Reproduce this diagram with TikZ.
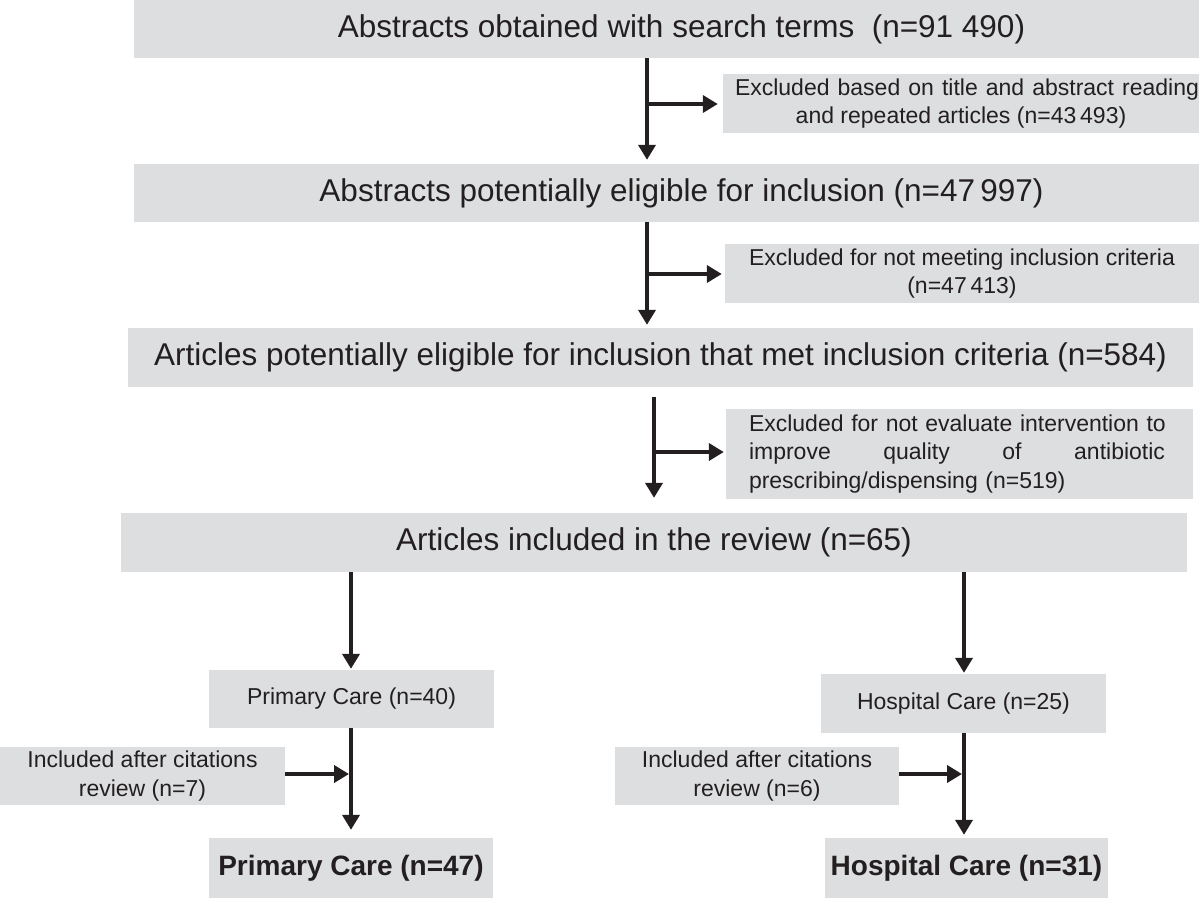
\documentclass[tikz,border=0pt]{standalone}
\usepackage{fontspec}
\setmainfont{Liberation Sans}
\usetikzlibrary{arrows.meta}
\definecolor{boxgray}{RGB}{221,222,224}
\definecolor{ink}{RGB}{35,31,32}
\tikzset{
  mainbox/.style={fill=boxgray, inner sep=0pt, minimum height=58pt, text=ink, font=\fontsize{31.5}{38}\selectfont},
  sidebox/.style={fill=boxgray, inner sep=0pt, minimum height=58pt, text=ink, align=center, font=\fontsize{23}{28.5}\selectfont},
  finalbox/.style={fill=boxgray, inner sep=0pt, minimum height=60pt, text=ink, font=\fontsize{28}{34}\selectfont\bfseries},
  flow/.style={draw=ink, line width=4.6pt, -{Triangle[length=15pt,width=17pt]}}
}

\begin{document}
\begin{tikzpicture}[x=1pt, y=-1pt]
  \useasboundingbox (0,0) rectangle (1200,898);
  % screening steps
  \node[mainbox, minimum width=1065pt] (search) at (666.5,29) {\hspace*{30pt}Abstracts obtained with search terms~ (n=91 490)};
  \node[sidebox, minimum width=476pt, minimum height=59pt] (excl1) at (961,103.5) {\hspace*{12pt}\makebox[464pt][s]{Excluded based on title and abstract reading}\\and repeated articles (n=43\,493)};
  \node[mainbox, minimum width=1065pt] (elig) at (666.5,193) {\hspace*{30pt}Abstracts potentially eligible for inclusion (n=47\,997)};
  \node[sidebox, minimum width=474pt, minimum height=59pt] (excl2) at (962,273.5) {Excluded for not meeting inclusion criteria\\(n=47\,413)};
  \node[mainbox, minimum width=1065pt, minimum height=59pt] (met) at (660.5,357.5) {Articles potentially eligible for inclusion that met inclusion criteria (n=584)};
  \node[sidebox, minimum width=467pt, minimum height=90pt, text width=421pt, align=left] (excl3) at (959.5,454) {Excluded for not evaluate intervention to\\\makebox[416pt][s]{\spaceskip=0pt improve quality of antibiotic}\\prescribing/dispensing (n=519)};
  \node[mainbox, minimum width=1066pt, minimum height=59pt] (review) at (654,542.5) {Articles included in the review (n=65)};
  % care settings
  \node[sidebox, minimum width=285pt] (primary) at (351.5,699) {Primary Care (n=40)};
  \node[sidebox, minimum width=285pt, minimum height=59pt] (hospital) at (963.5,703.5) {Hospital Care (n=25)};
  \node[sidebox, minimum width=285pt] (citeP) at (142.5,776) {Included after citations\\review (n=7)};
  \node[sidebox, minimum width=284pt] (citeH) at (757,776) {Included after citations\\review (n=6)};
  \node[finalbox, minimum width=284pt] (primaryF) at (351,868) {Primary Care (n=47)};
  \node[finalbox, minimum width=283pt] (hospitalF) at (966.5,868) {Hospital Care (n=31)};

  % junctions on the main line
  \coordinate (j1) at (647,104);
  \coordinate (j2) at (647,274);
  \coordinate (j3) at (654,452);
  \coordinate (jP) at (351,774);
  \coordinate (jH) at (964,774);

  \draw[flow, shorten >=4pt] (search.south -| j1) -- (elig.north -| j1);
  \draw[flow, shorten >=5pt] (j1) -- (j1 -| excl1.west);
  \draw[flow, shorten >=3pt] (elig.south -| j2) -- (met.north -| j2);
  \draw[flow, shorten >=3pt] (j2) -- (j2 -| excl2.west);
  \draw[flow, shorten <=10pt, shorten >=15pt] (met.south -| j3) -- (review.north -| j3);
  \draw[flow, shorten >=2pt] (j3) -- (j3 -| excl3.west);

  \draw[flow, shorten >=1pt] (review.south -| jP) -- (primary.north -| jP);
  \draw[flow, shorten >=1pt] (review.south -| jH) -- (hospital.north -| jH);
  \draw[flow, shorten >=8pt] (primary.south -| jP) -- (primaryF.north -| jP);
  \draw[flow, shorten >=3pt] (hospital.south -| jH) -- (hospitalF.north -| jH);
  \draw[flow, shorten >=2pt] (citeP.east |- jP) -- (jP);
  \draw[flow, shorten >=2pt] (citeH.east |- jH) -- (jH);
\end{tikzpicture}
\end{document}
